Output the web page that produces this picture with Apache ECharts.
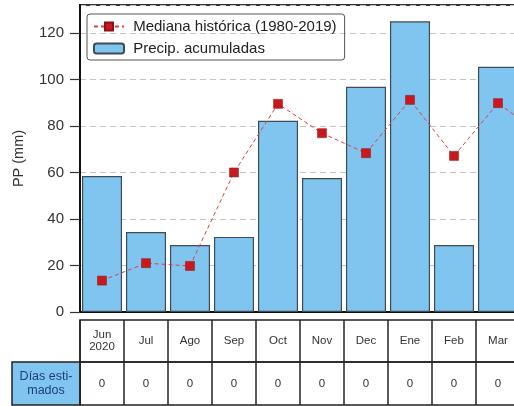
<!DOCTYPE html>
<html>
<head>
<meta charset="utf-8">
<script src="https://cdn.jsdelivr.net/npm/echarts@6/dist/echarts.min.js"></script>
<style>
  html, body { margin: 0; padding: 0; background: #fff; }
  #main { width: 514px; height: 406px; }
</style>
</head>
<body>
<div id="main"></div>
<script>
// meses (el último queda recortado a la derecha)
var months = ['Jun\n2020', 'Jul', 'Ago', 'Sep', 'Oct', 'Nov', 'Dec', 'Ene', 'Feb', 'Mar', 'Abr'];
var precip = [58.5, 34.4, 28.8, 32.3, 82.2, 57.6, 96.8, 125, 28.8, 105.4, null];
var mediana = [13.5, 21, 19.8, 60, 89.5, 76.9, 68.3, 91.2, 67.1, 89.8, 76];
var diasEstimados = [0, 0, 0, 0, 0, 0, 0, 0, 0, 0, 0];
var yTicks = { min: 0, max: 132, interval: 20 };

var font = 'Liberation Sans, Arial, sans-serif';
var blue = '#80c4f0';

var chart = echarts.init(document.getElementById('main'));
chart.setOption({
  animation: false,
  textStyle: { fontFamily: font },
  legend: {
    left: 87, top: 14,
    orient: 'vertical',
    padding: [5, 8, 4, 6],
    itemGap: 7,
    itemWidth: 30, itemHeight: 10,
    borderColor: '#555', borderWidth: 1, borderRadius: 3,
    formatter: function (name) { return ' ' + name; },
    textStyle: { fontSize: 15, color: '#222', fontFamily: font },
    data: ['Mediana histórica (1980-2019)', 'Precip. acumuladas']
  },
  grid: [
    { left: 80, top: 5, width: 484, height: 307, outerBoundsMode: 'none',
      show: true, borderColor: '#333', borderWidth: 2 },
    { left: 80, top: 320, width: 484, height: 42, outerBoundsMode: 'none',
      show: true, borderColor: '#222', borderWidth: 1.5 },
    { left: 80, top: 362, width: 484, height: 43, outerBoundsMode: 'none',
      show: true, borderColor: '#222', borderWidth: 1.5 },
    { left: 12, top: 362, width: 68, height: 43, outerBoundsMode: 'none',
      show: true, borderColor: '#222', borderWidth: 1.5, backgroundColor: blue }
  ],
  xAxis: [
    { gridIndex: 0, type: 'category', data: months,
      axisLine: { lineStyle: { color: '#111', width: 2 } },
      axisTick: { show: false }, axisLabel: { show: false } },
    { gridIndex: 1, type: 'category', data: months,
      axisLine: { show: false }, axisTick: { show: false },
      splitLine: { show: true, interval: 0, lineStyle: { color: '#222', width: 1.5 } },
      axisLabel: { inside: true, margin: 21, verticalAlign: 'middle', interval: 0,
        fontSize: 11.5, lineHeight: 12, color: '#333' } },
    { gridIndex: 2, type: 'category', data: months,
      axisLine: { show: false }, axisTick: { show: false },
      splitLine: { show: true, interval: 0, lineStyle: { color: '#222', width: 1.5 } },
      axisLabel: { inside: true, margin: 21, verticalAlign: 'middle', interval: 0,
        fontSize: 11.5, color: '#333',
        formatter: function (v, i) { return String(diasEstimados[i]); } } },
    { gridIndex: 3, type: 'category', data: ['Días esti-\nmados'],
      axisLine: { show: false }, axisTick: { show: false },
      axisLabel: { inside: true, margin: 21, verticalAlign: 'middle',
        fontSize: 12.5, lineHeight: 14, color: '#1f3d7a' } }
  ],
  yAxis: [
    { gridIndex: 0, type: 'value', min: yTicks.min, max: yTicks.max, interval: yTicks.interval,
      name: 'PP (mm)', nameLocation: 'middle', nameGap: 54, nameRotate: 90,
      nameTextStyle: { fontSize: 14.5, color: '#333' },
      axisLine: { show: true, lineStyle: { color: '#111', width: 2 } },
      axisTick: { show: true, length: 10, lineStyle: { color: '#333', width: 1.2 } },
      axisLabel: { fontSize: 15, color: '#333', margin: 16, showMaxLabel: false },
      splitLine: { show: true, lineStyle: { color: '#c4c4c4', type: [6, 4], width: 1 } } },
    { gridIndex: 1, type: 'value', show: false },
    { gridIndex: 2, type: 'value', show: false },
    { gridIndex: 3, type: 'value', show: false }
  ],
  series: [
    { name: 'Precip. acumuladas', type: 'bar', xAxisIndex: 0, yAxisIndex: 0,
      data: precip, barCategoryGap: '9%',
      itemStyle: { color: blue, borderColor: '#3f4b55', borderWidth: 1.2 } },
    { name: 'Mediana histórica (1980-2019)', type: 'line', xAxisIndex: 0, yAxisIndex: 0,
      data: mediana, symbol: 'rect', symbolSize: 9,
      itemStyle: { color: '#c81a1e', borderColor: '#8e1014', borderWidth: 0.5 },
      lineStyle: { color: '#d9443f', width: 1, type: [4, 3] } }
  ]
});
</script>
</body>
</html>
